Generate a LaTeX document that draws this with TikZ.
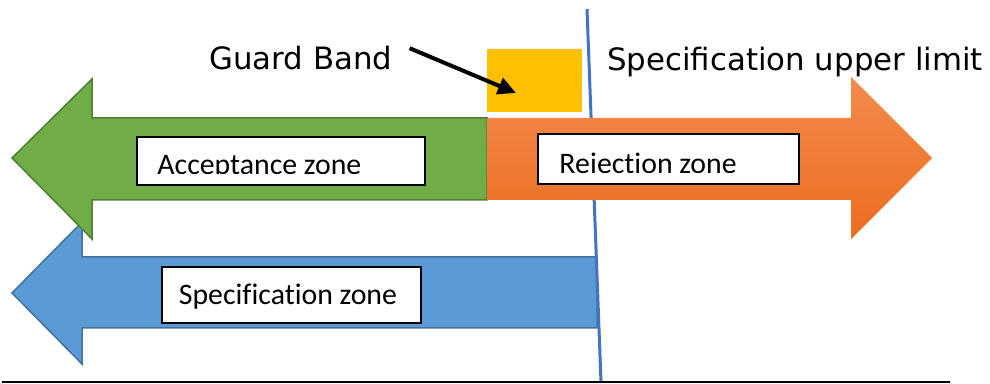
\documentclass[tikz,border=0pt]{standalone}
\usepackage{fontspec}
\setmainfont{Carlito}[Ligatures=NoCommon]
\newfontfamily\labelfont{DejaVu Sans}
\usepackage{tikz}
\usetikzlibrary{arrows.meta,calc}
\definecolor{accgreen}{HTML}{70AD47}
\definecolor{accgreenline}{HTML}{507E32}
\definecolor{rejtop}{HTML}{F38B4D}
\definecolor{rejbottom}{HTML}{EB6D1E}
\definecolor{specblue}{HTML}{5B9BD5}
\definecolor{specblueline}{HTML}{41719C}
\definecolor{limitblue}{HTML}{4472C4}
\definecolor{guardyellow}{HTML}{FFC000}

\begin{document}
\begin{tikzpicture}[x=0.5pt, y=-0.5pt]
    % Define styles
    \tikzstyle{zonebox} = [rectangle, draw=black, line width=0.6pt, fill=white, inner sep=0pt]
    \tikzstyle{zonetext} = [anchor=base west, inner sep=0pt, font=\fontsize{14.9}{17}\selectfont]
    \tikzstyle{bigtext} = [anchor=base west, inner sep=0pt, font=\labelfont\fontsize{15.4}{18}\selectfont]
    \tikzstyle{pointer} = [line width=2pt, -{Triangle[length=9pt,width=8.5pt]}]

    \fill[white] (0,0) rectangle (990,383);

    % Specification zone arrow
    \draw[fill=specblue, draw=specblueline, line width=0.75pt] (597,257) -- (82,257) -- (82,222) -- (12,293) -- (82,364) -- (82,328) -- (597,328) -- cycle;

    % Specification upper limit
    \coordinate (limtop) at (587,9);
    \coordinate (limbottom) at (601,382);
    \draw[limitblue, line width=1.5pt] (limtop) -- (limbottom);

    % Acceptance and rejection arrows
    \draw[fill=accgreen, draw=accgreenline, line width=0.75pt] (487,118) -- (92,118) -- (92,79) -- (12,158) -- (92,239) -- (92,200) -- (487,200) -- cycle;
    \shade[top color=rejtop, bottom color=rejbottom] (487,118) -- (851,118) -- (851,77) -- (932,158) -- (851,239) -- (851,200) -- (487,200) -- cycle;

    % Zone labels
    \node[zonebox, minimum width=144pt, minimum height=24pt] (accbox) at (281,161) {};
    \begin{scope}
        \clip (137,137) rectangle (425,174);
        \node[zonetext] (acctext) at (157,175) {Acceptance zone};
    \end{scope}
    \node[zonebox, minimum width=130.5pt, minimum height=25pt] (rejbox) at (668.5,159) {};
    \begin{scope}
        \clip (538,134) rectangle (799,173);
        \node[zonetext] (rejtext) at (559,174) {Rejection zone};
    \end{scope}
    \node[zonebox, minimum width=129.5pt, minimum height=28pt] (specbox) at (291.5,295) {};
    \node[zonetext] (spectext) at (178.5,305) {Specification zone};

    % Guard band
    \node[rectangle, fill=guardyellow, minimum width=47.5pt, minimum height=31.5pt, inner sep=0pt] (guard) at (534.5,80.5) {};
    \node[bigtext] (gblabel) at (209,70) {Guard Band};
    \node[bigtext] (limlabel) at (607,71) {Specification upper limit};
    \coordinate (gbtip) at (516,93);
    \draw[pointer] ($(gblabel.north east)+(17,2)$) -- (gbtip);

    % Base line
    \coordinate (baseleft) at (2,382);
    \coordinate (baseright) at (950,382);
    \draw[line width=1pt] (baseleft) -- (baseright);
\end{tikzpicture}
\end{document}
